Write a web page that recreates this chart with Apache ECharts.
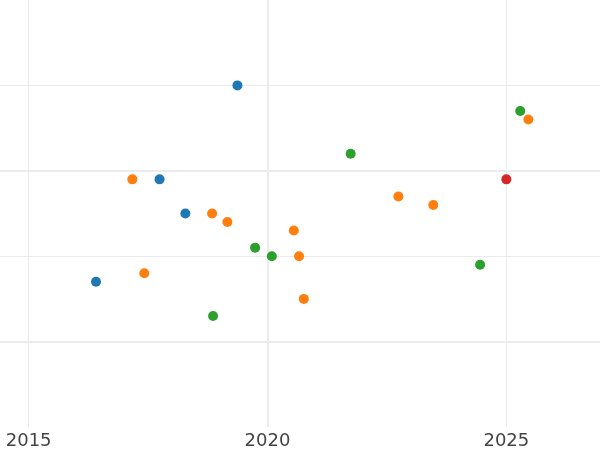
<!DOCTYPE html>
<html>
<head>
<meta charset="utf-8">
<script src="https://cdn.jsdelivr.net/npm/echarts@6/dist/echarts.min.js"></script>
<style>html,body{margin:0;padding:0;background:#fff}#c{width:600px;height:450px}</style>
</head>
<body>
<div id="c"></div>
<script>
// data
const blueX = [2019.37, 2017.74, 2018.28, 2016.41];
const blueY = [4.0, 2.9, 2.5, 1.7];
const orangeX = [2017.17, 2018.84, 2019.16, 2017.42, 2020.55, 2020.66, 2020.76, 2022.74, 2023.47, 2025.46];
const orangeY = [2.9, 2.5, 2.4, 1.8, 2.3, 2.0, 1.5, 2.7, 2.6, 3.6];
const greenX = [2021.74, 2025.29, 2019.74, 2020.09, 2018.86, 2024.45];
const greenY = [3.2, 3.7, 2.1, 2.0, 1.3, 1.9];
const redX = [2025.0];
const redY = [2.9];
const thickXLines = [2020];
const thickYLines = [1, 3];

const zip = (xs, ys) => xs.map((x, i) => [x, ys[i]]);
const gridColor = '#ebebeb';

const chart = echarts.init(document.getElementById('c'), null, {renderer: 'canvas'});
function mk(name, color, xs, ys, withLines) {
  const s = {
    name, type: 'scatter', data: zip(xs, ys), symbolSize: 10,
    itemStyle: {color, opacity: 1}, z: 3
  };
  if (withLines) {
    s.markLine = {
      silent: true, symbol: 'none', label: {show: false}, animation: false,
      lineStyle: {color: gridColor, width: 2, type: 'solid'},
      z: 1,
      data: thickXLines.map(v => ({xAxis: v})).concat(thickYLines.map(v => ({yAxis: v})))
    };
  }
  return s;
}
chart.setOption({
  animation: false,
  grid: {left: 0, right: 0, top: 0, bottom: 23, containLabel: false},
  xAxis: {
    type: 'value', min: 2014.4, max: 2026.96, splitNumber: 3,
    axisLine: {show: false}, axisTick: {show: false},
    axisLabel: {show: true, showMinLabel: false, showMaxLabel: false, margin: 5,
      color: '#444', fontFamily: 'DejaVu Sans', fontSize: 18,
      formatter: v => (Math.abs(v % 5) < 1e-6 ? String(v) : '')},
    splitLine: {show: true, showMinLine: false, showMaxLine: false, lineStyle: {color: gridColor, width: 1}}
  },
  yAxis: {
    type: 'value', min: 0, max: 5, interval: 1,
    axisLine: {show: false}, axisTick: {show: false}, axisLabel: {show: false},
    splitLine: {show: true, showMinLine: false, showMaxLine: false, lineStyle: {color: gridColor, width: 1}}
  },
  series: [
    mk('blue', '#1f77b4', blueX, blueY, true),
    mk('orange', '#ff7f0e', orangeX, orangeY, false),
    mk('green', '#2ca02c', greenX, greenY, false),
    mk('red', '#d62728', redX, redY, false)
  ]
});
</script>
</body>
</html>
